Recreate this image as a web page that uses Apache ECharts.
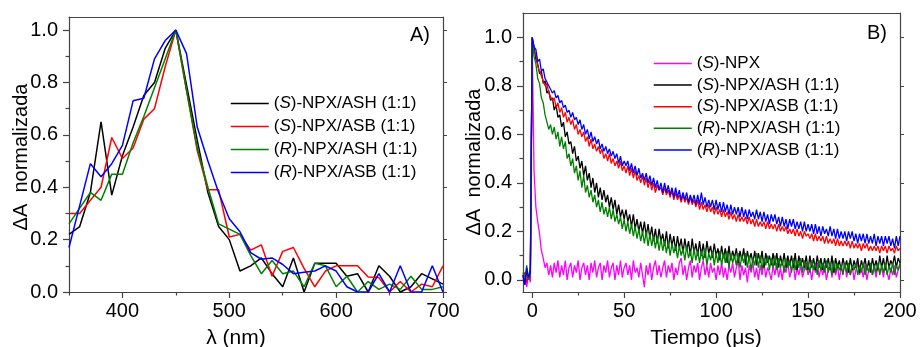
<!DOCTYPE html>
<html>
<head>
<meta charset="utf-8">
<script src="https://cdn.jsdelivr.net/npm/echarts@6.0.0/dist/echarts.min.js"></script>
<style>
html,body{margin:0;padding:0;background:#fff;}
#chart{width:920px;height:347px;}
</style>
</head>
<body>
<div id="chart"></div>
<script>
// ---------- Panel A: spectra ----------
const wavelengths = [350,360,370,380,390,400,410,420,430,440,450,460,470,480,490,500,510,520,530,540,550,560,570,580,590,600,610,620,630,640,650,660,670,680,690,700];
const specS_ASH = [0.22,0.25,0.38,0.65,0.37,0.52,0.63,0.75,0.80,0.93,1.00,0.79,0.58,0.38,0.25,0.20,0.08,0.10,0.13,0.07,0.02,0.13,0.00,0.11,0.11,0.11,0.06,0.07,0.00,0.10,0.06,0.00,0.02,0.07,0.05,0.03];
const specS_ASB = [0.30,0.30,0.35,0.40,0.59,0.51,0.55,0.66,0.70,0.86,1.00,0.77,0.54,0.39,0.39,0.21,0.22,0.16,0.18,0.06,0.155,0.17,0.09,0.02,0.08,0.10,0.10,0.10,0.057,0.055,0.00,0.04,0.00,0.03,0.02,0.10];
const specR_ASH = [0.26,0.32,0.38,0.35,0.45,0.45,0.57,0.67,0.78,0.89,1.00,0.77,0.55,0.40,0.26,0.24,0.22,0.14,0.07,0.12,0.07,0.08,0.02,0.11,0.10,0.02,0.06,0.00,0.04,0.01,0.03,0.01,0.06,0.01,0.01,0.02];
const specR_ASB = [0.17,0.33,0.49,0.44,0.49,0.56,0.73,0.74,0.89,0.96,1.00,0.91,0.63,0.50,0.38,0.28,0.23,0.15,0.125,0.13,0.105,0.07,0.075,0.08,0.10,0.08,0.02,0.00,0.00,0.07,0.00,0.10,0.00,0.00,0.10,0.00];
const xTicksA = [400,500,600,700];
const xMinorA = [350,450,550,650];
const yTicks = [0,0.2,0.4,0.6,0.8,1.0];
const yMinor = [0.1,0.3,0.5,0.7,0.9];

// ---------- Panel B: kinetics ----------
const times = [-5,-4,-3,-2,-1,0,
1,2,3,4,5,6,7,8,9,10,
11,12,13,14,15,16,17,18,19,20,
21,22,23,24,25,26,27,28,29,30,
31,32,33,34,35,36,37,38,39,40,
41,42,43,44,45,46,47,48,49,50,
51,52,53,54,55,56,57,58,59,60,
61,62,63,64,65,66,67,68,69,70,
71,72,73,74,75,76,77,78,79,80,
81,82,83,84,85,86,87,88,89,90,
91,92,93,94,95,96,97,98,99,100,
101,102,103,104,105,106,107,108,109,110,
111,112,113,114,115,116,117,118,119,120,
121,122,123,124,125,126,127,128,129,130,
131,132,133,134,135,136,137,138,139,140,
141,142,143,144,145,146,147,148,149,150,
151,152,153,154,155,156,157,158,159,160,
161,162,163,164,165,166,167,168,169,170,
171,172,173,174,175,176,177,178,179,180,
181,182,183,184,185,186,187,188,189,190,
191,192,193,194,195,196,197,198,199,200];

const kinS_NPX = [0.00,0.03,-0.03,0.02,-0.01,0.98,
0.45,0.30,0.24,0.19,0.12,0.09,0.05,0.07,0.02,0.06,
0.01,0.07,0.03,0.08,0.01,0.06,0.02,0.08,0.00,0.05,
0.07,0.01,0.06,0.03,0.08,0.00,0.05,0.07,0.02,0.06,
0.00,0.07,0.03,0.08,0.01,0.05,0.07,0.00,0.06,0.03,
0.08,0.01,0.05,0.07,0.00,0.06,0.02,0.08,0.01,0.05,
0.07,0.02,0.06,0.00,0.08,0.03,0.05,0.01,0.07,0.02,
-0.03,0.06,0.02,0.07,0.00,0.05,0.08,0.02,0.06,0.01,
0.05,0.08,0.01,0.06,0.03,0.07,0.00,0.05,0.02,0.07,
0.09,0.02,0.06,0.00,0.05,0.08,0.01,0.06,0.03,0.07,
0.00,0.05,0.08,0.02,0.06,0.01,0.07,0.03,0.05,0.00,
0.06,0.02,0.07,0.01,0.05,0.00,0.06,0.03,0.07,0.01,
0.05,0.08,0.00,0.06,0.02,0.05,-0.01,0.06,0.03,0.07,
0.01,0.05,0.00,0.06,0.02,0.07,0.01,0.05,0.03,0.00,
0.06,0.02,0.07,0.01,0.05,0.00,0.06,0.03,0.08,0.01,
0.04,0.07,0.00,0.05,0.02,0.06,0.01,0.04,0.07,0.02,
0.05,0.00,0.06,0.03,0.07,0.01,0.05,0.02,0.06,0.00,
0.04,0.07,0.01,0.05,0.02,0.06,0.00,0.05,0.03,0.07,
0.01,0.05,0.02,0.06,0.00,0.04,0.07,0.02,0.05,0.01,
0.06,0.00,0.04,0.07,0.02,0.05,0.01,0.06,0.03,0.05,
0.01,0.06,0.03,0.00,0.05,0.02,0.06,0.01,0.04,0.06];

const kinS_ASH = [0.02,-0.02,0.04,0.00,0.05,1.00,
0.96,0.91,0.89,0.85,0.86,0.81,0.82,0.77,0.78,0.74,
0.75,0.70,0.72,0.67,0.68,0.63,0.65,0.59,0.61,0.56,
0.57,0.52,0.55,0.49,0.51,0.46,0.49,0.43,0.47,0.41,
0.44,0.38,0.42,0.36,0.40,0.34,0.38,0.33,0.37,0.32,
0.35,0.30,0.34,0.29,0.33,0.27,0.31,0.26,0.29,0.25,
0.29,0.24,0.27,0.22,0.27,0.21,0.25,0.20,0.24,0.19,
0.24,0.18,0.23,0.17,0.22,0.16,0.21,0.15,0.21,0.16,
0.19,0.14,0.20,0.13,0.19,0.14,0.18,0.12,0.18,0.13,
0.17,0.11,0.17,0.12,0.16,0.10,0.17,0.11,0.15,0.10,
0.16,0.10,0.15,0.09,0.16,0.11,0.14,0.09,0.15,0.10,
0.13,0.08,0.14,0.09,0.13,0.07,0.14,0.08,0.12,0.09,
0.13,0.07,0.12,0.08,0.13,0.06,0.12,0.08,0.11,0.07,
0.12,0.06,0.11,0.07,0.12,0.05,0.11,0.07,0.10,0.06,
0.11,0.06,0.11,0.05,0.10,0.06,0.11,0.05,0.10,0.06,
0.10,0.05,0.11,0.04,0.10,0.06,0.09,0.05,0.10,0.04,
0.10,0.05,0.09,0.04,0.10,0.05,0.09,0.04,0.09,0.05,
0.09,0.04,0.10,0.03,0.09,0.05,0.08,0.04,0.09,0.05,
0.08,0.03,0.09,0.04,0.08,0.05,0.09,0.03,0.08,0.05,
0.09,0.04,0.08,0.03,0.09,0.05,0.08,0.04,0.10,0.05,
0.09,0.04,0.10,0.05,0.08,0.06,0.10,0.05,0.09,0.07];

const kinS_ASB = [0.01,0.03,-0.01,0.02,0.01,1.00,
0.94,0.93,0.88,0.88,0.84,0.84,0.80,0.81,0.77,0.77,
0.74,0.75,0.71,0.73,0.69,0.71,0.67,0.69,0.65,0.67,
0.64,0.66,0.62,0.64,0.60,0.62,0.59,0.61,0.57,0.59,
0.55,0.58,0.54,0.56,0.53,0.55,0.52,0.54,0.50,0.52,
0.49,0.52,0.48,0.50,0.47,0.49,0.46,0.49,0.45,0.47,
0.44,0.47,0.43,0.46,0.42,0.45,0.41,0.43,0.40,0.43,
0.39,0.42,0.38,0.41,0.37,0.40,0.36,0.39,0.37,0.38,
0.35,0.38,0.35,0.37,0.34,0.37,0.33,0.36,0.33,0.35,
0.32,0.35,0.32,0.34,0.31,0.34,0.31,0.33,0.30,0.33,
0.29,0.32,0.29,0.31,0.28,0.31,0.28,0.30,0.27,0.30,
0.27,0.29,0.26,0.29,0.26,0.28,0.25,0.28,0.25,0.27,
0.24,0.27,0.24,0.26,0.24,0.26,0.23,0.26,0.23,0.25,
0.22,0.25,0.22,0.24,0.22,0.24,0.21,0.24,0.21,0.23,
0.21,0.23,0.20,0.23,0.20,0.22,0.20,0.22,0.19,0.21,
0.19,0.21,0.18,0.21,0.18,0.20,0.17,0.20,0.18,0.19,
0.17,0.19,0.16,0.19,0.16,0.18,0.16,0.18,0.15,0.18,
0.15,0.17,0.15,0.17,0.14,0.17,0.14,0.16,0.14,0.16,
0.14,0.16,0.13,0.16,0.13,0.15,0.13,0.15,0.12,0.15,
0.13,0.15,0.12,0.14,0.12,0.14,0.12,0.14,0.11,0.14,
0.12,0.14,0.11,0.14,0.12,0.13,0.11,0.14,0.12,0.13];

const kinR_ASH = [0.03,-0.01,0.06,0.00,0.03,1.00,
0.92,0.89,0.83,0.81,0.75,0.73,0.68,0.68,0.62,0.64,
0.60,0.63,0.58,0.61,0.55,0.59,0.54,0.57,0.50,0.52,
0.47,0.50,0.44,0.47,0.41,0.45,0.38,0.43,0.36,0.39,
0.34,0.37,0.32,0.35,0.30,0.33,0.28,0.32,0.27,0.30,
0.26,0.30,0.25,0.29,0.24,0.27,0.23,0.26,0.21,0.25,
0.20,0.24,0.19,0.23,0.18,0.22,0.17,0.21,0.16,0.20,
0.15,0.20,0.14,0.19,0.14,0.18,0.13,0.18,0.12,0.17,
0.12,0.16,0.11,0.16,0.10,0.15,0.11,0.14,0.09,0.14,
0.10,0.13,0.08,0.14,0.09,0.12,0.07,0.13,0.08,0.12,
0.07,0.12,0.08,0.13,0.06,0.11,0.08,0.12,0.06,0.11,
0.07,0.12,0.06,0.11,0.07,0.12,0.05,0.11,0.07,0.10,
0.06,0.11,0.05,0.10,0.07,0.11,0.05,0.10,0.04,0.09,
0.06,0.11,0.05,0.10,0.04,0.09,0.06,0.10,0.04,0.09,
0.05,0.10,0.04,0.09,0.05,0.08,0.03,0.09,0.05,0.08,
0.03,0.09,0.04,0.08,0.05,0.09,0.03,0.08,0.04,0.07,
0.03,0.08,0.04,0.07,0.02,0.08,0.04,0.07,0.03,0.08,
0.03,0.07,0.02,0.08,0.03,0.07,0.04,0.06,0.02,0.07,
0.03,0.07,0.02,0.06,0.04,0.07,0.02,0.06,0.03,0.07,
0.02,0.06,0.03,0.07,0.02,0.06,0.03,0.07,0.02,0.06,
0.03,0.07,0.02,0.06,0.03,0.07,0.02,0.06,0.04,0.07];

const kinR_ASB = [0.02,-0.02,0.05,0.01,0.03,1.00,
0.96,0.95,0.90,0.91,0.86,0.87,0.83,0.83,0.80,0.80,
0.77,0.78,0.75,0.76,0.73,0.74,0.71,0.72,0.69,0.70,
0.67,0.69,0.66,0.67,0.64,0.66,0.62,0.64,0.60,0.62,
0.58,0.61,0.57,0.59,0.56,0.58,0.54,0.56,0.53,0.55,
0.52,0.54,0.51,0.53,0.50,0.52,0.48,0.51,0.47,0.49,
0.47,0.49,0.45,0.48,0.44,0.47,0.43,0.46,0.42,0.44,
0.41,0.44,0.40,0.43,0.39,0.42,0.38,0.41,0.37,0.40,
0.36,0.40,0.36,0.39,0.35,0.38,0.34,0.38,0.34,0.37,
0.33,0.36,0.33,0.36,0.32,0.35,0.32,0.35,0.31,0.35,
0.31,0.36,0.31,0.34,0.30,0.33,0.30,0.33,0.29,0.33,
0.29,0.32,0.28,0.32,0.28,0.31,0.27,0.31,0.27,0.30,
0.27,0.30,0.26,0.30,0.26,0.29,0.25,0.29,0.26,0.28,
0.25,0.29,0.25,0.28,0.24,0.28,0.24,0.27,0.23,0.27,
0.24,0.27,0.23,0.26,0.22,0.26,0.22,0.25,0.21,0.25,
0.22,0.25,0.21,0.24,0.21,0.24,0.20,0.24,0.20,0.23,
0.20,0.23,0.19,0.23,0.19,0.22,0.18,0.22,0.19,0.21,
0.18,0.22,0.18,0.21,0.17,0.21,0.17,0.20,0.17,0.20,
0.16,0.20,0.17,0.20,0.16,0.19,0.15,0.19,0.16,0.19,
0.15,0.19,0.15,0.18,0.15,0.19,0.14,0.18,0.15,0.18,
0.14,0.18,0.15,0.18,0.14,0.17,0.13,0.18,0.14,0.18];

const xTicksB = [0,50,100,150,200];
const xMinorB = [25,75,125,175];

// ---------- names / colours ----------
const namesA = ['(S)-NPX/ASH (1:1)','(S)-NPX/ASB (1:1)','(R)-NPX/ASH (1:1)','(R)-NPX/ASB (1:1)'];
const namesB = ['(S)-NPX','(S)-NPX/ASH (1:1)','(S)-NPX/ASB (1:1)','(R)-NPX/ASH (1:1)','(R)-NPX/ASB (1:1)'];
const colorOf = {
  '(S)-NPX':'#ff00ff',
  '(S)-NPX/ASH (1:1)':'#000000',
  '(S)-NPX/ASB (1:1)':'#ff0000',
  '(R)-NPX/ASH (1:1)':'#008000',
  '(R)-NPX/ASB (1:1)':'#0000ff'
};

const FONT = '"Liberation Sans", Arial, sans-serif';
const AXC = '#444';

function legendFmt(name){
  const m = name.match(/^\((\w)\)(.*)$/);
  if (!m) return name;
  return '{n|(}{i|' + m[1] + '}{n|)' + m[2] + '}';
}

const gridA = {left:69, top:17, width:374, height:275};
const gridB = {left:523, top:13, width:377, height:279};

function xAxes(gi, min, max, ticks, minor){
  return [
    {type:'value', gridIndex:gi, min:min, max:max, position:'bottom',
     axisLine:{show:true, onZero:false, lineStyle:{color:AXC, width:1.2}},
     axisTick:{show:true, customValues:ticks, length:6, lineStyle:{color:AXC, width:1.2}},
     axisLabel:{show:true, customValues:ticks, fontSize:20, fontFamily:FONT, color:'#000', margin:9},
     splitLine:{show:false}},
    {type:'value', gridIndex:gi, min:min, max:max, position:'bottom',
     axisLine:{show:false, onZero:false},
     axisTick:{show:true, customValues:minor, length:3.5, lineStyle:{color:AXC, width:1.2}},
     axisLabel:{show:false}, splitLine:{show:false}},
    {type:'value', gridIndex:gi, min:min, max:max, position:'top',
     axisLine:{show:true, onZero:false, lineStyle:{color:AXC, width:1.2}},
     axisTick:{show:false}, axisLabel:{show:false}, splitLine:{show:false}}
  ];
}
function yAxes(gi, min, max){
  const fmt = v => v.toFixed(1);
  return [
    {type:'value', gridIndex:gi, min:min, max:max, position:'left',
     axisLine:{show:true, onZero:false, lineStyle:{color:AXC, width:1.2}},
     axisTick:{show:true, customValues:yTicks, length:6, lineStyle:{color:AXC, width:1.2}},
     axisLabel:{show:true, customValues:yTicks, formatter:fmt, fontSize:20, fontFamily:FONT, color:'#000', margin:11},
     splitLine:{show:false}},
    {type:'value', gridIndex:gi, min:min, max:max, position:'left',
     axisLine:{show:false, onZero:false},
     axisTick:{show:true, customValues:yMinor, length:3.5, lineStyle:{color:AXC, width:1.2}},
     axisLabel:{show:false}, splitLine:{show:false}},
    {type:'value', gridIndex:gi, min:min, max:max, position:'right',
     axisLine:{show:true, onZero:false, lineStyle:{color:AXC, width:1.2}},
     axisTick:{show:true, customValues:yTicks, length:4, lineStyle:{color:AXC, width:1}},
     axisLabel:{show:false}, splitLine:{show:false}}
  ];
}

const series = [];
const specData = [specS_ASH, specS_ASB, specR_ASH, specR_ASB];
namesA.forEach((n, k) => {
  series.push({
    type:'line', name:n, xAxisIndex:0, yAxisIndex:0,
    data: wavelengths.map((w, i) => [w, specData[k][i]]),
    symbol:'none', lineStyle:{color:colorOf[n], width:1.5}, itemStyle:{color:colorOf[n]},
    clip:true, silent:true
  });
});
const kinData = [kinS_NPX, kinS_ASH, kinS_ASB, kinR_ASH, kinR_ASB];
namesB.forEach((n, k) => {
  series.push({
    type:'line', name:n, xAxisIndex:3, yAxisIndex:3,
    data: times.map((t, i) => [t, kinData[k][i]]),
    symbol:'none', lineStyle:{color:colorOf[n], width:1.3}, itemStyle:{color:colorOf[n]},
    clip:true, silent:true
  });
});

const legendRich = {
  n:{fontSize:17, fontFamily:FONT, color:'#000'},
  i:{fontSize:17, fontFamily:FONT, color:'#000', fontStyle:'italic'}
};

const option = {
  animation:false,
  backgroundColor:'#fff',
  grid:[gridA, gridB],
  xAxis:[...xAxes(0, 350, 700, xTicksA, xMinorA), ...xAxes(1, -5, 200, xTicksB, xMinorB)],
  yAxis:[...yAxes(0, 0, 1.05), ...yAxes(1, -0.05, 1.1)],
  legend:[
    {data:namesA, orient:'vertical', left:225, top:90, itemWidth:38, itemHeight:14, itemGap:6,
     itemStyle:{opacity:0}, lineStyle:{width:1.5},
     formatter:legendFmt, textStyle:{fontSize:17, fontFamily:FONT, color:'#000', rich:legendRich}, selectedMode:false},
    {data:namesB, orient:'vertical', left:648, top:50, itemWidth:38, itemHeight:14, itemGap:4.6,
     itemStyle:{opacity:0}, lineStyle:{width:1.5},
     formatter:legendFmt, textStyle:{fontSize:17, fontFamily:FONT, color:'#000', rich:legendRich}, selectedMode:false}
  ],
  graphic:[
    {type:'text', x:420, y:35, style:{text:'A)', font:'20px ' + FONT, fill:'#000', align:'center', verticalAlign:'middle'}},
    {type:'text', x:877, y:33, style:{text:'B)', font:'20px ' + FONT, fill:'#000', align:'center', verticalAlign:'middle'}},
    {type:'text', x:236, y:338, style:{text:'λ (nm)', font:'21px ' + FONT, fill:'#000', align:'center', verticalAlign:'middle'}},
    {type:'text', x:706, y:338, style:{text:'Tiempo (μs)', font:'21px ' + FONT, fill:'#000', align:'center', verticalAlign:'middle'}},
    {type:'text', x:21, y:157, rotation:Math.PI/2, style:{text:'ΔA  normalizada', font:'20px ' + FONT, fill:'#000', align:'center', verticalAlign:'middle'}},
    {type:'text', x:474, y:162, rotation:Math.PI/2, style:{text:'ΔA  normalizada', font:'20px ' + FONT, fill:'#000', align:'center', verticalAlign:'middle'}}
  ],
  series:series
};

const chart = echarts.init(document.getElementById('chart'), null, {renderer:'canvas'});
chart.setOption(option);
</script>
</body>
</html>
